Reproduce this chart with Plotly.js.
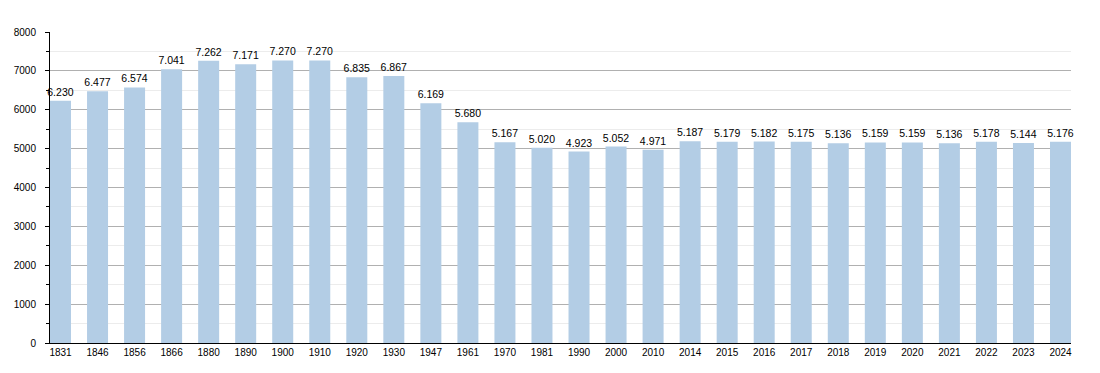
<!DOCTYPE html>
<html><head><meta charset="utf-8">
<script src="https://cdn.plot.ly/plotly-3.0.1.min.js"></script>
<style>body{margin:0;background:#fff}#c{width:1100px;height:373px}</style>
</head><body><div id="c"></div>
<script>
const years = ["1831","1846","1856","1866","1880","1890","1900","1910","1920","1930","1947","1961","1970","1981","1990","2000","2010","2014","2015","2016","2017","2018","2019","2020","2021","2022","2023","2024"];
const population = [6230,6477,6574,7041,7262,7171,7270,7270,6835,6867,6169,5680,5167,5020,4923,5052,4971,5187,5179,5182,5175,5136,5159,5159,5136,5178,5144,5176];
const yTicks = [0,1000,2000,3000,4000,5000,6000,7000,8000];

const barW = 0.567;
Plotly.newPlot('c', [{
  type: 'bar',
  x: years,
  y: population,
  marker: {color: '#b3cde5'},
  width: barW,
  texttemplate: '%{y:,}',
  textposition: 'outside',
  constraintext: 'none',
  cliponaxis: false,
  textfont: {family: 'Liberation Sans, Arial, sans-serif', size: 10.5, color: '#000'},
  hoverinfo: 'x+y'
}], {
  width: 1100, height: 373,
  margin: {l: 50, r: 29, t: 32, b: 30},
  separators: ',.',
  paper_bgcolor: '#fff', plot_bgcolor: '#fff',
  showlegend: false,
  font: {family: 'Liberation Sans, Arial, sans-serif', size: 10, color: '#000'},
  xaxis: {
    type: 'category',
    range: [-barW/2, years.length - 1 + barW/2],
    showline: true, linecolor: '#000', linewidth: 1,
    ticks: '', showgrid: false,
    tickfont: {size: 10}
  },
  yaxis: {
    range: [0, 8000],
    tickvals: yTicks,
    showline: true, linecolor: '#000', linewidth: 1,
    ticks: 'outside', ticklen: 4, tickcolor: '#000',
    ticklabelstandoff: 7,
    gridcolor: '#b0b0b0', gridwidth: 1,
    zeroline: false,
    tickfont: {size: 10},
    minor: {dtick: 500, showgrid: true, gridcolor: '#ececec', ticks: 'outside', ticklen: 3, tickcolor: '#000'}
  }
}, {displayModeBar: false, staticPlot: true});
</script></body></html>
